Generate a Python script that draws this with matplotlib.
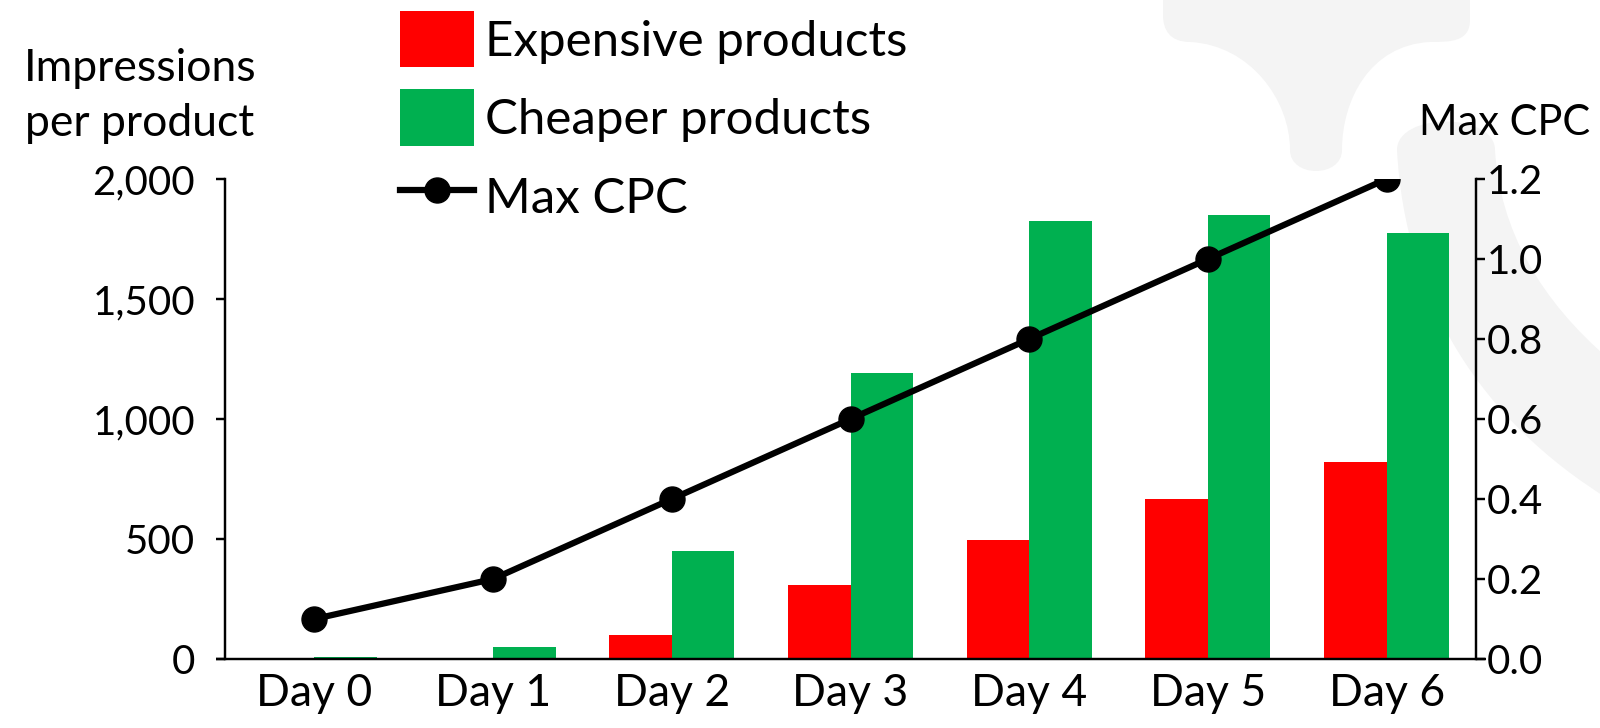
import matplotlib
matplotlib.use('Agg')
import matplotlib.pyplot as plt
from matplotlib.path import Path
from matplotlib.patches import PathPatch
from matplotlib.ticker import FuncFormatter
import numpy as np

plt.rcParams['font.family'] = ['Lato', 'DejaVu Sans']

days = ['Day 0', 'Day 1', 'Day 2', 'Day 3', 'Day 4', 'Day 5', 'Day 6']
expensive = [0, 5, 100, 310, 495, 665, 820]
cheaper = [10, 50, 450, 1190, 1825, 1850, 1775]
max_cpc = [0.1, 0.2, 0.4, 0.6, 0.8, 1.0, 1.2]

RED = '#ff0000'
GREEN = '#00b050'
WM = '#f4f4f4'

fig = plt.figure(figsize=(16, 7.28), dpi=100)

# faint logo shapes in the background (pixel coords, y down)
bg = fig.add_axes([0, 0, 1, 1], zorder=-1)
bg.set_xlim(0, 1600)
bg.set_ylim(728, 0)
bg.axis('off')

M, L, C, Z = Path.MOVETO, Path.LINETO, Path.CURVE4, Path.CLOSEPOLY
anchor = [
    ((1163, -10), M), ((1470, -10), L), ((1470, 20), L),
    ((1470, 42), C), ((1450, 42), C), ((1430, 42), L),
    ((1370, 45), C), ((1342, 100), C), ((1342, 150), L),
    ((1342, 178), C), ((1290, 178), C), ((1290, 150), L),
    ((1290, 100), C), ((1250, 45), C), ((1190, 42), L),
    ((1170, 42), C), ((1163, 30), C), ((1163, 15), L),
    ((1163, -10), Z),
    # diamond cut-out
    ((1317, -28), M), ((1360, 15), L), ((1317, 60), L), ((1273, 15), L), ((1317, -28), Z),
]
verts, codes = zip(*anchor)
bg.add_patch(PathPatch(Path(verts, codes), facecolor=WM, edgecolor='none'))

band = [
    ((1397, 150), M),
    ((1405, 300), C), ((1480, 420), C), ((1610, 500), C),
    ((1610, 360), L),
    ((1540, 300), C), ((1500, 230), C), ((1495, 150), C),
    ((1495, 112), C), ((1397, 112), C), ((1397, 150), C),
    ((1397, 150), Z),
]
verts, codes = zip(*band)
bg.add_patch(PathPatch(Path(verts, codes), facecolor=WM, edgecolor='none'))

ax = fig.add_axes([225 / 1600, 69 / 728, 1251 / 1600, 480 / 728])
ax.set_facecolor('none')
x = np.arange(len(days))
w = 0.35
b1 = ax.bar(x - w / 2, expensive, width=w, color=RED, label='Expensive products')
b2 = ax.bar(x + w / 2, cheaper, width=w, color=GREEN, label='Cheaper products')
ax.set_xlim(-0.5, 6.5)
ax.set_ylim(0, 2000)
ax.set_yticks([0, 500, 1000, 1500, 2000])
ax.yaxis.set_major_formatter(FuncFormatter(lambda v, p: f'{int(v):,}'))
ax.set_xticks(x)
ax.set_xticklabels(days, fontsize=32)
ax.tick_params(axis='x', length=0, pad=10)
ax.tick_params(axis='y', length=6.5, width=1.75, labelsize=29, pad=15)
for s in ['top', 'right', 'bottom']:
    ax.spines[s].set_visible(False)
ax.spines['left'].set_linewidth(1.75)
ax.plot([-0.0075, 1.008], [0, 0], transform=ax.transAxes, color='black',
        lw=1.75, clip_on=False, solid_capstyle='butt')

ax2 = ax.twinx()
ln, = ax2.plot(x, max_cpc, color='black', lw=4.5, marker='o', markersize=18,
               label='Max CPC')
ax2.set_ylim(0, 1.2)
ax2.set_yticks([0, 0.2, 0.4, 0.6, 0.8, 1.0, 1.2])
ax2.yaxis.set_major_formatter(FuncFormatter(lambda v, p: f'{v:.1f}'))
ax2.tick_params(axis='y', length=6.5, width=1.75, labelsize=29, pad=1.5)
for s in ['top', 'left', 'bottom']:
    ax2.spines[s].set_visible(False)
ax2.spines['right'].set_linewidth(1.75)

fig.text(140 / 1600, 1 - 96 / 728, 'Impressions\nper product', fontsize=32,
         ha='center', va='center', linespacing=1.44)
fig.text(1590 / 1600, 1 - 123 / 728, 'Max CPC', fontsize=30, ha='right', va='center')

fig.legend([b1, b2, ln], ['Expensive products', 'Cheaper products', 'Max CPC'],
           loc='upper left', bbox_to_anchor=(400 / 1600, 1 - 11 / 728),
           frameon=False, fontsize=35.5, handlelength=1.5, handleheight=1.38,
           handletextpad=0.22, labelspacing=0.45, borderpad=0, borderaxespad=0)

fig.savefig('out.png', dpi=100, facecolor='white')
